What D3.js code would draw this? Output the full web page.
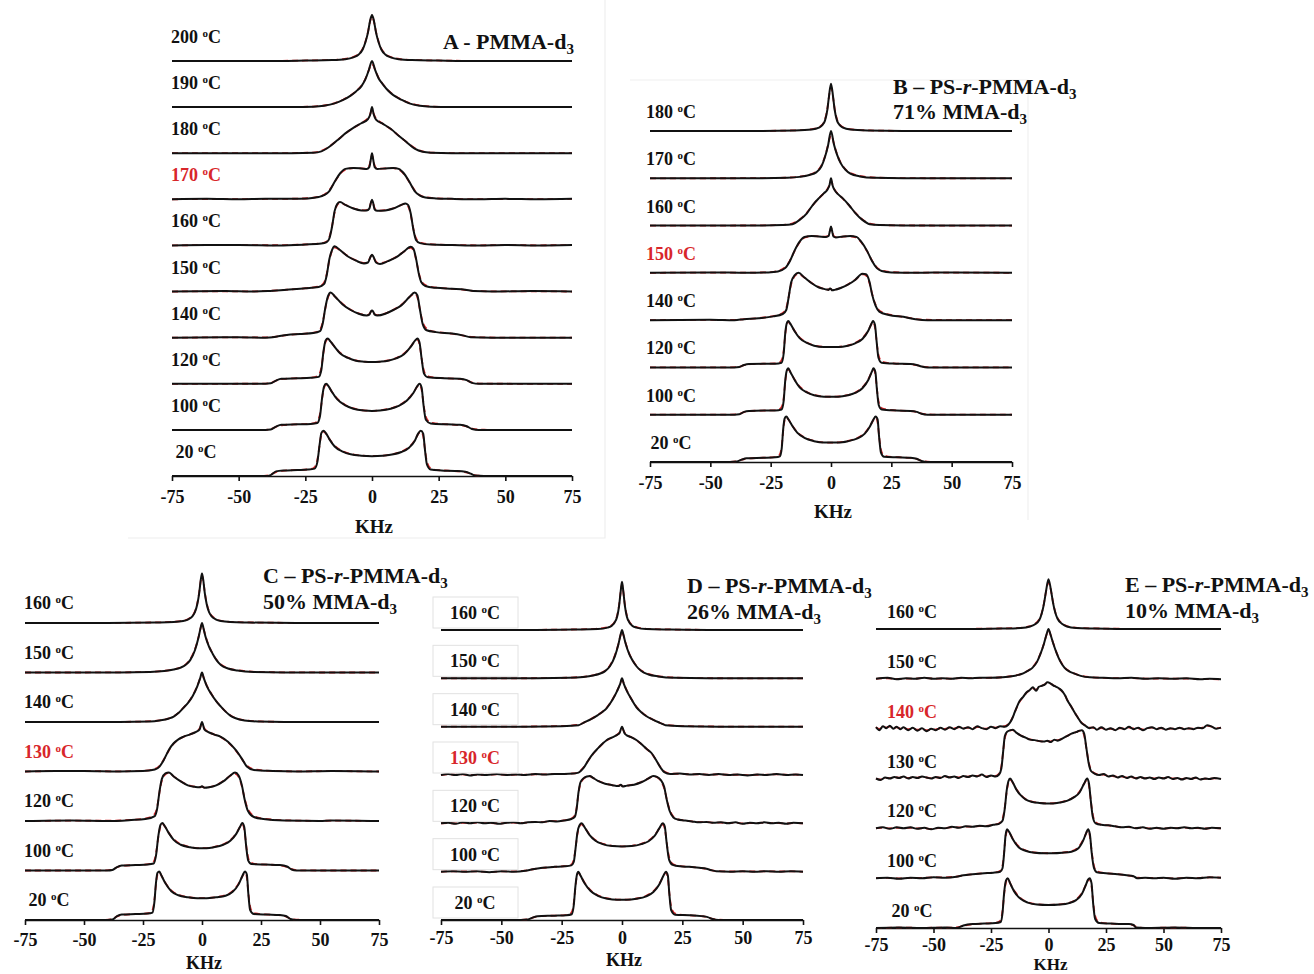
<!DOCTYPE html>
<html>
<head>
<meta charset="utf-8">
<script src="https://cdn.jsdelivr.net/npm/d3@7"></script>
<style>
  html, body { margin: 0; padding: 0; background: #fff; }
  svg { display: block; }
  text { font-family: "Liberation Serif", "Times New Roman", serif; font-weight: bold; fill: #111; }
</style>
</head>
<body>
<script>
// ---- shared axis ticks (kHz) ----
const kHzTicks = [-75, -50, -25, 0, 25, 50, 75];

// ---- Panel A: PMMA-d3 (spectra listed top to bottom) ----
const tempsA = ["200", "190", "180", "170", "160", "150", "140", "120", "100", "20"];
const transitionA = "170";
const specA200 = [[-75,0],[-40,0],[-25,0.01],[-15,0.02],[-10,0.04],[-7,0.08],[-5,0.14],[-3.5,0.25],[-2.5,0.4],[-1.5,0.62],[-0.7,0.88],[0,1.0],[0.7,0.88],[1.5,0.62],[2.5,0.4],[3.5,0.25],[5,0.14],[7,0.08],[10,0.04],[15,0.02],[25,0.01],[40,0],[75,0]];
const specA190 = [[-75,0],[-30,0],[-22,0.01],[-18,0.03],[-14,0.08],[-11,0.15],[-8,0.25],[-6,0.34],[-4,0.45],[-2.5,0.6],[-1.2,0.8],[0,1.0],[1.2,0.8],[2.5,0.62],[4,0.5],[6,0.36],[8,0.26],[11,0.16],[14,0.08],[18,0.03],[22,0.01],[30,0],[75,0]];
const specA180 = [[-75,0],[-30,0],[-22,0.01],[-19,0.04],[-16,0.14],[-13,0.28],[-10,0.43],[-7,0.55],[-4,0.65],[-1.5,0.74],[-0.6,0.85],[0,1.0],[0.6,0.85],[1.5,0.73],[4,0.64],[7,0.53],[10,0.38],[13,0.24],[16,0.1],[19,0.03],[22,0.01],[30,0],[75,0]];
const specA170 = [[-75,0],[-62,0.01],[-50,0],[-40,0.01],[-30,0.01],[-24,0.02],[-20,0.05],[-18,0.09],[-16,0.18],[-14,0.38],[-12,0.56],[-10,0.66],[-7,0.68],[-4,0.67],[-2,0.66],[-1,0.7],[-0.4,0.88],[0,1.0],[0.4,0.88],[1,0.7],[2,0.66],[5,0.67],[8,0.68],[10,0.66],[12,0.56],[14,0.38],[16,0.18],[18,0.08],[20,0.04],[24,0.02],[30,0.01],[40,0],[50,0.01],[62,0],[75,0.01]];
const specA160 = [[-75,0],[-62,0.01],[-50,0.01],[-35,0],[-25,0.02],[-19,0.04],[-17,0.07],[-16,0.15],[-15,0.4],[-14,0.75],[-13,0.9],[-12,0.94],[-10,0.88],[-7,0.8],[-4,0.76],[-2,0.76],[-1,0.8],[-0.4,0.93],[0,0.99],[0.4,0.93],[1,0.78],[2,0.75],[5,0.76],[8,0.8],[11,0.88],[12.5,0.91],[13.5,0.88],[14.5,0.7],[15.5,0.35],[16.5,0.12],[18,0.05],[22,0.02],[30,0.01],[40,0],[50,0.01],[62,0],[75,0.01]];
const specA150 = [[-75,0],[-55,0.01],[-45,0],[-39,0.01],[-32,0.04],[-25,0.07],[-20,0.1],[-18,0.16],[-17,0.35],[-16,0.7],[-15,0.9],[-14,0.98],[-12,0.9],[-9,0.76],[-6,0.67],[-3,0.61],[-1.5,0.63],[-0.5,0.76],[0,0.8],[0.5,0.76],[1.5,0.63],[3,0.6],[6,0.66],[9,0.74],[12,0.87],[14.5,0.97],[15.5,0.93],[16.5,0.72],[17.5,0.4],[18.5,0.2],[20,0.12],[24,0.08],[30,0.06],[35,0.04],[38,0.01],[45,0],[60,0.01],[75,0]];
const specA140 = [[-75,0],[-50,0.01],[-40,0],[-36,0.02],[-32,0.06],[-27,0.08],[-22,0.1],[-19.5,0.14],[-18.5,0.3],[-17.5,0.65],[-16.5,0.9],[-15.5,0.98],[-14,0.9],[-11,0.72],[-8,0.6],[-5,0.52],[-2,0.48],[-1,0.5],[-0.4,0.57],[0,0.59],[0.4,0.57],[1,0.5],[2,0.48],[5,0.52],[8,0.6],[11,0.7],[14,0.88],[16,0.98],[17,0.92],[18,0.6],[19,0.3],[20.5,0.16],[24,0.12],[30,0.09],[34,0.05],[37,0.01],[45,0],[75,0]];
const specA120 = [[-75,0],[-55,0],[-40,0],[-38,0.01],[-36,0.07],[-34,0.11],[-28,0.12],[-23,0.13],[-20,0.15],[-19,0.3],[-18.2,0.7],[-17.4,0.94],[-16.6,0.98],[-15.6,0.92],[-14,0.8],[-12,0.66],[-9,0.56],[-6,0.5],[-3,0.48],[0,0.47],[3,0.48],[6,0.5],[9,0.55],[12,0.64],[14.5,0.8],[16.2,0.94],[17,0.98],[17.8,0.9],[18.6,0.55],[19.5,0.22],[21,0.14],[27,0.12],[33,0.11],[35.5,0.08],[37.5,0.02],[40,0],[55,0],[75,0]];
const specA100 = [[-75,0],[-55,0],[-40,0],[-38,0.01],[-36,0.07],[-34,0.11],[-28,0.12],[-23,0.13],[-20.5,0.15],[-19.5,0.3],[-18.7,0.7],[-18,0.94],[-17.2,1.0],[-16.2,0.94],[-15,0.82],[-13,0.66],[-10,0.53],[-7,0.46],[-3,0.42],[0,0.41],[3,0.42],[7,0.46],[10,0.52],[13,0.63],[15.5,0.8],[17,0.95],[17.8,1.0],[18.6,0.92],[19.3,0.55],[20.2,0.22],[22,0.14],[28,0.12],[33,0.11],[35.5,0.08],[37.5,0.02],[40,0],[55,0],[75,0]];
const specA20 = [[-75,0],[-60,0],[-45,0],[-40,0],[-38,0.02],[-36,0.1],[-33,0.12],[-28,0.13],[-24,0.14],[-21.5,0.16],[-20.5,0.3],[-19.6,0.7],[-19,0.93],[-18.2,0.98],[-17.3,0.93],[-16,0.8],[-14,0.64],[-11,0.53],[-8,0.47],[-4,0.44],[0,0.43],[4,0.44],[8,0.47],[11,0.52],[14,0.62],[16,0.76],[17.3,0.92],[18.3,0.98],[19.2,0.92],[19.8,0.6],[20.6,0.25],[22,0.14],[26,0.12],[31,0.11],[35,0.09],[37,0.05],[38.5,0.01],[42,0],[60,0],[75,0]];
const spectraA = [specA200, specA190, specA180, specA170, specA160, specA150, specA140, specA120, specA100, specA20];

// ---- Panel B: PS-r-PMMA-d3, 71% MMA-d3 ----
const tempsB = ["180", "170", "160", "150", "140", "120", "100", "20"];
const transitionB = "150";
const specB180 = [[-75,0],[-30,0],[-15,0.01],[-8,0.03],[-5,0.07],[-3.5,0.13],[-2.5,0.22],[-1.5,0.45],[-0.8,0.75],[0,1.0],[0.8,0.75],[1.5,0.45],[2.5,0.22],[3.5,0.13],[5,0.07],[8,0.03],[15,0.01],[30,0],[75,0]];
const specB170 = [[-75,0],[-30,0],[-18,0.01],[-13,0.03],[-9,0.07],[-6,0.13],[-4,0.25],[-2.5,0.45],[-1.2,0.7],[0,1.0],[1.2,0.72],[2.5,0.5],[4,0.32],[6,0.18],[8,0.1],[12,0.04],[18,0.01],[30,0],[75,0]];
const specB160 = [[-75,0],[-30,0],[-20,0.01],[-16,0.03],[-13,0.12],[-10,0.26],[-7.5,0.44],[-5,0.58],[-3,0.68],[-1.5,0.76],[-0.6,0.86],[0,1.0],[0.6,0.86],[1.5,0.75],[3,0.66],[5,0.57],[7.5,0.43],[10,0.27],[13,0.12],[16,0.03],[20,0.01],[30,0],[75,0]];
const specB150 = [[-75,0],[-50,0.01],[-35,0],[-26,0.01],[-22,0.03],[-19,0.1],[-17,0.25],[-15,0.48],[-13,0.66],[-11,0.76],[-8,0.78],[-5,0.77],[-2,0.76],[-1,0.78],[-0.4,0.9],[0,0.98],[0.4,0.9],[1,0.77],[2,0.75],[5,0.77],[8,0.78],[10.5,0.76],[12.5,0.66],[15,0.46],[17,0.25],[19,0.1],[21,0.04],[25,0.01],[35,0],[50,0.01],[75,0]];
const specB140 = [[-75,0],[-50,0.01],[-40,0],[-36,0.02],[-30,0.04],[-24,0.08],[-20,0.13],[-18.5,0.22],[-17.5,0.5],[-16.5,0.8],[-15,0.95],[-13.5,1.0],[-11,0.9],[-8,0.78],[-5,0.69],[-2,0.65],[-1,0.64],[-0.4,0.67],[0,0.66],[0.5,0.63],[1.5,0.64],[4,0.68],[7,0.75],[10,0.85],[13,0.98],[14.5,0.97],[16,0.8],[17,0.55],[18.5,0.3],[20,0.18],[24,0.11],[30,0.07],[35,0.02],[40,0],[75,0]];
const specB120 = [[-75,0],[-55,0],[-40,0],[-38,0.01],[-36,0.05],[-34,0.07],[-28,0.08],[-23,0.08],[-20.5,0.1],[-19.6,0.3],[-19,0.7],[-18.4,0.92],[-17.7,0.98],[-16.8,0.92],[-15,0.76],[-13,0.62],[-10,0.52],[-7,0.46],[-3,0.43],[0,0.43],[3,0.43],[7,0.46],[10,0.51],[13,0.6],[15.5,0.78],[16.8,0.93],[17.4,0.98],[18.2,0.9],[18.9,0.55],[19.7,0.2],[21,0.1],[27,0.08],[33,0.07],[35.5,0.05],[37.5,0.02],[40,0],[55,0],[75,0]];
const specB100 = [[-75,0],[-55,0],[-40,0],[-38,0.01],[-36,0.06],[-34,0.08],[-28,0.09],[-23,0.09],[-20.5,0.11],[-19.6,0.3],[-19,0.7],[-18.4,0.92],[-17.7,0.98],[-16.8,0.9],[-15,0.73],[-13,0.58],[-10,0.47],[-7,0.41],[-3,0.38],[0,0.38],[3,0.38],[7,0.41],[10,0.46],[13,0.56],[15.5,0.74],[17,0.92],[17.6,0.98],[18.4,0.9],[19,0.55],[19.8,0.2],[21,0.11],[27,0.09],[33,0.08],[35.5,0.06],[37.5,0.02],[40,0],[55,0],[75,0]];
const specB20 = [[-75,0],[-55,0],[-42,0],[-39,0.01],[-37,0.05],[-35,0.08],[-28,0.09],[-23,0.1],[-21.2,0.12],[-20.4,0.3],[-19.8,0.7],[-19.2,0.92],[-18.5,0.96],[-17.6,0.9],[-16,0.76],[-14,0.62],[-11,0.51],[-7,0.44],[-3,0.41],[0,0.41],[3,0.41],[7,0.44],[11,0.5],[14,0.6],[16,0.74],[17.6,0.9],[18.5,0.96],[19.3,0.9],[19.9,0.55],[20.7,0.2],[22,0.11],[28,0.1],[33,0.09],[35.5,0.07],[37.5,0.02],[40,0],[55,0],[75,0]];
const spectraB = [specB180, specB170, specB160, specB150, specB140, specB120, specB100, specB20];

// ---- Panel C: PS-r-PMMA-d3, 50% MMA-d3 ----
const tempsC = ["160", "150", "140", "130", "120", "100", "20"];
const transitionC = "130";
const specC160 = [[-75,0],[-40,0],[-20,0.01],[-12,0.02],[-8,0.04],[-6,0.07],[-4,0.14],[-3,0.22],[-2,0.38],[-1.2,0.6],[-0.5,0.88],[0,1.0],[0.5,0.88],[1.2,0.6],[2,0.38],[3,0.22],[4,0.14],[6,0.07],[8,0.04],[12,0.02],[20,0.01],[40,0],[75,0]];
const specC150 = [[-75,0],[-35,0],[-22,0.01],[-16,0.03],[-12,0.06],[-9,0.1],[-7,0.15],[-5,0.25],[-3,0.45],[-1.5,0.7],[-0.5,0.92],[0,1.0],[0.6,0.9],[1.5,0.72],[3,0.52],[4.5,0.38],[6,0.26],[8,0.15],[11,0.08],[15,0.04],[22,0.01],[35,0],[75,0]];
const specC140 = [[-75,0],[-35,0],[-22,0.01],[-18,0.03],[-14,0.07],[-12,0.11],[-10,0.18],[-8,0.28],[-6,0.38],[-4,0.52],[-2,0.72],[-0.8,0.88],[0,1.0],[0.8,0.88],[2,0.73],[4,0.56],[6,0.42],[8,0.31],[10,0.21],[12,0.13],[14,0.08],[18,0.03],[24,0.01],[35,0],[75,0]];
const specC130 = [[-75,0],[-62,0.01],[-50,0.01],[-35,0],[-25,0.01],[-20,0.04],[-18,0.1],[-16,0.25],[-14,0.44],[-12,0.57],[-10,0.65],[-8,0.7],[-5,0.75],[-2.5,0.8],[-1,0.85],[0,1.0],[1,0.85],[2.5,0.8],[5,0.75],[8,0.7],[11,0.6],[14,0.45],[17,0.25],[19,0.1],[22,0.03],[30,0.01],[40,0],[55,0.01],[75,0]];
const specC120 = [[-75,0],[-55,0.01],[-40,0],[-30,0.02],[-24,0.04],[-20,0.1],[-19,0.25],[-18,0.6],[-17,0.85],[-15.5,0.96],[-14,0.98],[-12,0.9],[-9,0.8],[-6,0.72],[-3,0.69],[-1,0.68],[0,0.7],[1,0.67],[3,0.68],[6,0.72],[9,0.8],[12,0.92],[14,0.98],[15.5,0.92],[17,0.7],[18,0.45],[19.5,0.2],[22,0.08],[26,0.04],[35,0.01],[50,0],[55,0.01],[75,0]];
const specC100 = [[-75,0],[-55,0],[-40,0],[-38,0.01],[-36,0.07],[-34,0.1],[-28,0.11],[-23,0.12],[-20.5,0.14],[-19.5,0.3],[-18.5,0.7],[-17.6,0.92],[-16.8,0.96],[-15.8,0.9],[-14,0.75],[-12,0.62],[-9,0.52],[-5,0.47],[-2,0.45],[0,0.45],[2,0.45],[5,0.47],[9,0.52],[12,0.6],[14.5,0.74],[16.3,0.9],[17.1,0.96],[17.9,0.88],[18.7,0.5],[19.6,0.2],[21,0.13],[27,0.12],[33,0.11],[36,0.08],[38,0.02],[40,0],[55,0],[75,0]];
const specC20 = [[-75,0],[-55,0],[-40,0],[-38,0.01],[-36,0.08],[-34,0.11],[-28,0.12],[-23,0.13],[-21,0.15],[-20.2,0.35],[-19.5,0.75],[-18.9,0.95],[-18.1,0.98],[-17.2,0.9],[-15.5,0.74],[-13,0.58],[-10,0.5],[-6,0.46],[-2,0.44],[0,0.44],[2,0.44],[6,0.46],[10,0.49],[13,0.57],[15.5,0.72],[17.2,0.9],[18.2,0.98],[19,0.92],[19.6,0.55],[20.4,0.2],[22,0.12],[28,0.11],[33,0.1],[35.5,0.08],[37.5,0.02],[40,0],[55,0],[75,0]];
const spectraC = [specC160, specC150, specC140, specC130, specC120, specC100, specC20];

// ---- Panel D: PS-r-PMMA-d3, 26% MMA-d3 ----
const tempsD = ["160", "150", "140", "130", "120", "100", "20"];
const transitionD = "130";
const specD160 = [[-75,0],[-40,0],[-20,0.01],[-10,0.02],[-6,0.05],[-4,0.1],[-3,0.16],[-2,0.28],[-1.2,0.5],[-0.5,0.82],[0,1.0],[0.5,0.82],[1.2,0.5],[2,0.28],[3,0.16],[4,0.1],[6,0.05],[10,0.02],[20,0.01],[40,0],[75,0]];
const specD150 = [[-75,0],[-35,0],[-22,0.01],[-16,0.03],[-12,0.06],[-9,0.1],[-7,0.15],[-5,0.25],[-3,0.45],[-1.5,0.7],[-0.5,0.92],[0,1.0],[0.6,0.9],[1.5,0.72],[3,0.5],[4.5,0.36],[6,0.25],[8,0.15],[11,0.08],[15,0.04],[22,0.01],[35,0],[75,0]];
const specD140 = [[-75,0],[-40,0],[-25,0.01],[-18,0.03],[-16,0.08],[-13,0.15],[-10,0.24],[-8,0.31],[-6.4,0.38],[-4,0.55],[-2,0.74],[-0.8,0.88],[0,1.0],[0.8,0.88],[2,0.74],[4,0.56],[6,0.4],[8,0.3],[10,0.22],[13,0.14],[15.7,0.08],[18,0.03],[25,0.01],[40,0],[75,0]];
const specD130 = [[-75,0],[-72,0.02],[-69,0],[-66,0.02],[-63,-0.01],[-60,0.01],[-56,0],[-52,0.02],[-48,0],[-44,0.01],[-40,0],[-36,0.02],[-32,0.01],[-28,0.02],[-24,0.02],[-20,0.03],[-18,0.05],[-16,0.14],[-14,0.3],[-12,0.44],[-10,0.55],[-8,0.65],[-6.4,0.72],[-4,0.78],[-2,0.83],[-1,0.87],[0,1.0],[1,0.87],[2,0.82],[4,0.78],[6.1,0.72],[8,0.64],[10,0.55],[12.3,0.45],[14,0.32],[16,0.15],[17.5,0.06],[20,0.02],[24,0.03],[28,0.01],[32,0.02],[36,0],[40,0.02],[44,0],[48,0.01],[52,-0.01],[56,0.01],[60,0],[64,0.02],[68,0],[72,0.01],[75,0]];
const specD120 = [[-75,0],[-72,0.01],[-69,-0.01],[-66,0.02],[-63,0],[-60,0.02],[-57,0],[-54,0.01],[-51,-0.01],[-48,0.01],[-45,0.02],[-42,0],[-39,0.02],[-36,0.03],[-33,0.02],[-30,0.05],[-27,0.04],[-24,0.06],[-21,0.09],[-19.5,0.14],[-18.8,0.3],[-18,0.65],[-17.2,0.85],[-16,0.93],[-14.5,0.97],[-13.3,0.98],[-12,0.94],[-10,0.88],[-7,0.82],[-4,0.79],[-1.5,0.77],[-0.5,0.8],[0.3,0.76],[2,0.78],[5,0.8],[8,0.85],[11,0.93],[12.9,0.98],[14.5,0.96],[16,0.9],[17.5,0.75],[18.5,0.5],[19.8,0.25],[21.3,0.12],[23,0.08],[26,0.06],[29,0.04],[32,0.02],[35,0.03],[38,0.01],[41,0.02],[44,0],[47,0.02],[50,-0.01],[53,0.01],[56,0],[59,0.02],[62,0],[65,0.01],[68,-0.01],[71,0.01],[75,0]];
const specD100 = [[-75,0],[-70,0.01],[-65,0],[-60,0.01],[-55,-0.01],[-50,0.01],[-45,0],[-40,0.02],[-37,0.05],[-33,0.08],[-28,0.1],[-24,0.11],[-21,0.13],[-20,0.2],[-19.2,0.5],[-18.5,0.8],[-17.6,0.96],[-16.7,1.0],[-15.5,0.92],[-13.5,0.76],[-11,0.64],[-8,0.57],[-4,0.53],[0,0.52],[4,0.53],[8,0.57],[11,0.63],[13.5,0.74],[15.5,0.9],[16.9,1.0],[17.7,0.94],[18.5,0.6],[19.5,0.25],[21,0.14],[24,0.11],[28,0.1],[32,0.08],[35,0.06],[37,0.03],[39,0.01],[45,0],[50,0.01],[55,0],[60,0.01],[65,0],[70,0.01],[75,0]];
const specD20 = [[-75,0],[-55,0],[-42,0],[-39,0.01],[-37,0.05],[-35,0.08],[-28,0.09],[-23,0.1],[-20.8,0.12],[-20,0.3],[-19.3,0.7],[-18.7,0.93],[-18.1,1.0],[-17.2,0.92],[-15.5,0.76],[-13,0.6],[-10,0.5],[-6,0.44],[-2,0.42],[0,0.42],[2,0.42],[6,0.44],[10,0.49],[13,0.58],[15.5,0.74],[17.2,0.92],[18.2,1.0],[19,0.92],[19.6,0.55],[20.4,0.2],[22,0.11],[28,0.1],[33,0.08],[35.5,0.06],[37.5,0.02],[40,0],[55,0],[75,0]];
const spectraD = [specD160, specD150, specD140, specD130, specD120, specD100, specD20];

// ---- Panel E: PS-r-PMMA-d3, 10% MMA-d3 ----
const tempsE = ["160", "150", "140", "130", "120", "100", "20"];
const transitionE = "140";
const specE160 = [[-75,0],[-40,0],[-20,0.01],[-12,0.02],[-8,0.05],[-6,0.09],[-4,0.18],[-3,0.3],[-2,0.5],[-1,0.78],[0,1.0],[1,0.8],[2,0.52],[3,0.32],[4,0.2],[6,0.1],[8,0.05],[12,0.02],[20,0.01],[40,0],[75,0]];
const specE150 = [[-75,0],[-70,0.02],[-66,-0.01],[-62,0.01],[-58,0],[-54,0.02],[-50,0],[-46,0.01],[-42,0],[-38,0.02],[-34,0.01],[-30,0.02],[-25,0.02],[-20,0.03],[-16,0.05],[-13,0.08],[-11,0.11],[-9,0.16],[-7,0.22],[-5,0.34],[-3.5,0.5],[-2,0.7],[-0.8,0.9],[0,1.0],[0.8,0.9],[2,0.72],[3.5,0.52],[5,0.36],[7,0.22],[9,0.15],[11,0.11],[14,0.06],[18,0.03],[24,0.02],[30,0.01],[36,0.02],[42,0],[48,0.01],[54,0],[60,0.01],[66,-0.01],[70,0],[75,-0.01]];
const specE140 = [[-75,0.03],[-73.5,-0.03],[-72,0.05],[-70.5,0.01],[-69,0.06],[-67.5,0],[-66,0.04],[-64.5,-0.01],[-63,0.03],[-61,-0.03],[-59,0.02],[-57,-0.04],[-55,0.01],[-53,-0.05],[-51,0],[-49,-0.03],[-47,0.02],[-45,-0.02],[-43,0.03],[-41,-0.01],[-39,0.04],[-37,0],[-35,0.03],[-33,-0.01],[-31,0.05],[-29,0.01],[-27,-0.01],[-25,0.04],[-23,0.01],[-21,0.05],[-19,0.04],[-17.5,0.08],[-16,0.18],[-14.5,0.35],[-12.5,0.56],[-11,0.64],[-9.5,0.73],[-8,0.78],[-6.8,0.83],[-5.4,0.76],[-4.2,0.84],[-3,0.86],[-1.5,0.89],[-0.5,0.93],[0.8,0.91],[2,0.87],[3.3,0.84],[4.8,0.8],[6.2,0.74],[7.3,0.66],[8.3,0.56],[9.8,0.45],[11.3,0.33],[12.8,0.22],[14.2,0.12],[16,0.06],[17.8,0.01],[19.5,0.03],[21,-0.02],[23,0.03],[25,-0.02],[27,0.01],[29,-0.03],[31,0.02],[33,-0.01],[35,0.04],[37,-0.01],[39,0.02],[41,-0.03],[43,0.01],[45,0.03],[47,-0.01],[49,0.02],[51,-0.02],[53,0.01],[55,-0.01],[57,0.02],[59,-0.01],[61,0.01],[63,-0.01],[65,0.02],[67,0.01],[69,0.07],[71,0.04],[73,0],[75,0.02]];
const specE130 = [[-75,0],[-73,-0.03],[-71,0.02],[-69,0],[-67,0.03],[-65,0.01],[-63,0.04],[-61,0],[-59,0.03],[-57,0.01],[-55,0.04],[-53,0.02],[-51,0],[-49,0.03],[-47,0.01],[-45,0.05],[-43,0.02],[-41,0.04],[-39,0.01],[-37,0.05],[-35,0.03],[-33,0.06],[-31,0.04],[-29,0.08],[-27,0.03],[-25,0.06],[-23,0.04],[-21.5,0.08],[-20.5,0.2],[-19.7,0.55],[-19,0.85],[-18,0.94],[-16.5,0.97],[-15.5,0.98],[-14,0.92],[-12,0.86],[-10,0.82],[-8,0.78],[-6,0.77],[-4,0.75],[-2,0.74],[-0.5,0.76],[1,0.73],[2.5,0.78],[4,0.76],[6,0.8],[8,0.85],[10,0.9],[12,0.93],[13.5,0.96],[14.5,0.97],[15.5,0.9],[16.5,0.6],[17.5,0.3],[18.5,0.15],[20,0.1],[22,0.07],[24,0.09],[26,0.04],[28,0.06],[30,0.02],[32,0.05],[34,0.01],[36,0.04],[38,0],[40,0.03],[42,0],[44,0.02],[46,-0.01],[48,0.02],[50,0],[52,0.03],[54,-0.01],[56,0.01],[58,-0.02],[60,0.01],[62,-0.01],[64,0.02],[66,-0.02],[68,0],[70,-0.01],[72,0.01],[75,-0.01]];
const specE120 = [[-75,0],[-72,0.02],[-69,-0.01],[-66,0.02],[-63,0],[-60,0.02],[-57,-0.01],[-54,0.01],[-51,-0.02],[-48,0.01],[-45,0],[-42,0.03],[-39,0.01],[-36,0.04],[-33,0.03],[-30,0.05],[-27,0.04],[-24,0.07],[-21.5,0.09],[-20,0.15],[-19,0.4],[-18.2,0.75],[-17.4,0.95],[-16.7,1.0],[-15.5,0.92],[-14,0.78],[-12,0.66],[-10,0.58],[-7,0.53],[-4,0.51],[-1,0.5],[2,0.5],[5,0.52],[8,0.55],[11,0.62],[13.5,0.72],[15.5,0.9],[16.8,1.0],[17.6,0.9],[18.4,0.55],[19.3,0.22],[20.5,0.1],[23,0.07],[26,0.06],[29,0.04],[32,0.02],[35,0.03],[38,0],[41,0.02],[44,-0.01],[47,0.01],[50,-0.01],[53,0.01],[56,0],[59,0.02],[62,0],[65,0.01],[68,-0.01],[71,0.01],[75,0]];
const specE100 = [[-75,0],[-70,0.01],[-65,-0.01],[-60,0.01],[-55,0],[-50,0.02],[-45,0.01],[-40,0.03],[-37,0.06],[-33,0.08],[-28,0.1],[-24,0.11],[-21,0.13],[-20,0.2],[-19.3,0.5],[-18.7,0.85],[-18,0.98],[-17,0.92],[-15.5,0.78],[-13,0.62],[-10,0.55],[-6,0.51],[-2,0.5],[2,0.5],[6,0.51],[10,0.53],[13,0.6],[15.3,0.78],[16.5,0.92],[17.2,0.98],[18,0.88],[18.8,0.5],[19.8,0.2],[21,0.12],[25,0.1],[30,0.08],[34,0.06],[37,0.04],[38.5,0],[42,0.01],[46,0],[50,0.01],[55,-0.01],[60,0.01],[65,0],[70,0.02],[75,0.01]];
const specE20 = [[-75,0],[-65,0.01],[-55,0],[-45,0.01],[-40,0],[-37,0.05],[-33,0.08],[-28,0.09],[-23,0.1],[-20.8,0.12],[-20,0.3],[-19.3,0.7],[-18.5,0.95],[-17.7,1.0],[-16.7,0.9],[-15,0.74],[-12,0.58],[-9,0.51],[-5,0.47],[0,0.46],[5,0.47],[9,0.5],[12,0.56],[14.5,0.68],[16.2,0.86],[17.2,0.97],[17.9,1.0],[18.7,0.9],[19.4,0.5],[20.3,0.18],[22,0.1],[27,0.09],[32,0.08],[35,0.08],[37,0.06],[38,0.01],[42,0],[55,0.01],[65,0],[75,0]];
const spectraE = [specE160, specE150, specE140, specE130, specE120, specE100, specE20];

// ---- panel titles: [text, style] runs ----
const titleA = [[["A - PMMA-d", ""], ["3", "sub"]]];
const titleB = [[["B \u2013 PS-", ""], ["r", "it"], ["-PMMA-d", ""], ["3", "sub"]], [["71% MMA-d", ""], ["3", "sub"]]];
const titleC = [[["C \u2013 PS-", ""], ["r", "it"], ["-PMMA-d", ""], ["3", "sub"]], [["50% MMA-d", ""], ["3", "sub"]]];
const titleD = [[["D \u2013 PS-", ""], ["r", "it"], ["-PMMA-d", ""], ["3", "sub"]], [["26% MMA-d", ""], ["3", "sub"]]];
const titleE = [[["E \u2013 PS-", ""], ["r", "it"], ["-PMMA-d", ""], ["3", "sub"]], [["10% MMA-d", ""], ["3", "sub"]]];
const axisTitle = "KHz";

// ---- layout of the five stacked-spectrum panels ----
const panels = [
  { temps: tempsA, spectra: spectraA, hot: transitionA, title: titleA,
    x0: 172, x1: 572, axisY: 476, topY: 61, labelCx: 196, labelDy: 18,
    tickDy: 27, axisTitleY: 533, axisTitleSize: 19, titleX: 443, titleY: 49, titleGap: 24, boxed: false },
  { temps: tempsB, spectra: spectraB, hot: transitionB, title: titleB,
    x0: 650, x1: 1012, axisY: 462, topY: 131, labelCx: 671, labelDy: 13,
    tickDy: 27, axisTitleY: 518, axisTitleSize: 19, titleX: 893, titleY: 94, titleGap: 25, boxed: false },
  { temps: tempsC, spectra: spectraC, hot: transitionC, title: titleC,
    x0: 25, x1: 379, axisY: 920, topY: 623, labelCx: 49, labelDy: 14,
    tickDy: 26, axisTitleY: 969, axisTitleSize: 18, titleX: 263, titleY: 583, titleGap: 26, boxed: false },
  { temps: tempsD, spectra: spectraD, hot: transitionD, title: titleD,
    x0: 441, x1: 803, axisY: 920, topY: 630, labelCx: 475, labelDy: 11,
    tickDy: 24, axisTitleY: 966, axisTitleSize: 18, titleX: 687, titleY: 593, titleGap: 26, boxed: true },
  { temps: tempsE, spectra: spectraE, hot: transitionE, title: titleE,
    x0: 876, x1: 1221, axisY: 928, topY: 629, labelCx: 912, labelDy: 11,
    tickDy: 23, axisTitleY: 970, axisTitleSize: 17, titleX: 1125, titleY: 592, titleGap: 26, boxed: false }
];

const W = 1314, H = 974;
const svg = d3.select("body").append("svg").attr("width", W).attr("height", H);

// faint frames of the two upper panels
svg.append("path").attr("d", "M128,538 H605 V0").attr("fill", "none").attr("stroke", "#eeeeee").attr("stroke-width", 1.2);
svg.append("path").attr("d", "M630,80 H1028 V520").attr("fill", "none").attr("stroke", "#f0f0f0").attr("stroke-width", 1.2);

const RED = "#d8262a";

panels.forEach(p => {
  const g = svg.append("g");
  const n = p.spectra.length;
  const x = d3.scaleLinear().domain([-75, 75]).range([p.x0, p.x1]);
  // stack offset: bottom trace sits at 0, each trace above is one unit higher
  const y = d3.scaleLinear().domain([0, n - 1]).range([p.axisY, p.topY]);

  // axis
  const axis = d3.axisBottom(x).tickValues(kHzTicks).tickSize(5).tickSizeOuter(0).tickFormat(d => String(d));
  const ax = g.append("g").attr("transform", `translate(0,${p.axisY})`).call(axis);
  ax.select(".domain").attr("stroke", "#111").attr("stroke-width", 1.6);
  ax.selectAll(".tick line").attr("stroke", "#111").attr("stroke-width", 1.6);
  ax.selectAll(".tick text")
    .attr("y", p.tickDy).attr("dy", 0)
    .style("font-family", "'Liberation Serif','Times New Roman',serif")
    .style("font-weight", "bold").style("font-size", "18px").attr("fill", "#111");

  g.append("text").attr("x", (p.x0 + p.x1) / 2 + 2).attr("y", p.axisTitleY)
    .attr("text-anchor", "middle").style("font-size", p.axisTitleSize + "px").text(axisTitle);

  p.spectra.forEach((spec, i) => {
    const off = n - 1 - i;
    const fit = d3.line().x(d => x(d[0])).y(d => y(off + d[1])).curve(d3.curveBasis);
    const trace = d3.line().x(d => x(d[0])).y(d => y(off + d[1])).curve(d3.curveMonotoneX);

    g.append("path").attr("d", fit(spec)).attr("fill", "none")
      .attr("stroke", RED).attr("stroke-width", 1.8).attr("stroke-dasharray", "6,4");
    g.append("path").attr("d", trace(spec)).attr("fill", "none")
      .attr("stroke", "#111").attr("stroke-width", 2).attr("stroke-linejoin", "round");

    const temp = p.temps[i];
    const ly = y(off) - p.labelDy;
    if (p.boxed) {
      g.append("rect").attr("x", p.labelCx - 42).attr("y", y(off) - 33)
        .attr("width", 85).attr("height", 31)
        .attr("fill", "none").attr("stroke", "#e2e2e2").attr("stroke-width", 1);
    }
    const t = g.append("text").attr("x", p.labelCx).attr("y", ly)
      .attr("text-anchor", "middle").style("font-size", "18px")
      .style("fill", temp === p.hot ? RED : "#111");
    t.append("tspan").text(temp + " ");
    t.append("tspan").attr("dy", -6).style("font-size", "11px").text("o");
    t.append("tspan").attr("dy", 6).text("C");
  });

  // panel title, one or two lines
  p.title.forEach((runs, li) => {
    const t = g.append("text").attr("x", p.titleX).attr("y", p.titleY + li * p.titleGap)
      .style("font-size", "22px");
    runs.forEach(([s, style]) => {
      const sp = t.append("tspan").text(s);
      if (style === "it") sp.style("font-style", "italic");
      if (style === "sub") sp.attr("dy", 5).style("font-size", "15px");
    });
  });
});
</script>
</body>
</html>
